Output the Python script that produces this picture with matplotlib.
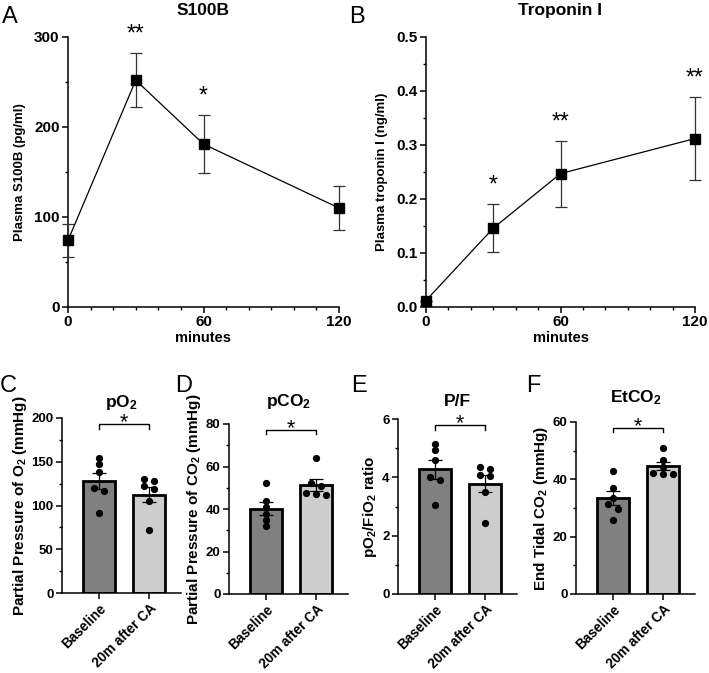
import numpy as np
import matplotlib
matplotlib.use("Agg")
import matplotlib.pyplot as plt
from matplotlib.ticker import MultipleLocator

# time course panels (mean +/- SEM)
minutes = [0, 30, 60, 120]
s100b_mean = [74, 252, 181, 110]
s100b_sem = [18, 30, 32, 24]
s100b_stars = ["", "**", "*", ""]
trop_mean = [0.012, 0.146, 0.247, 0.312]
trop_sem = [0.0, 0.045, 0.061, 0.077]
trop_stars = ["", "*", "**", "**"]

# blood gas panels: individual animals
groups = ["Baseline", "20m after CA"]
po2_base = [154, 148, 138, 120, 117, 92]
po2_ca = [130, 127.5, 122, 118.5, 104.8, 72.4]
pco2_base = [52.3, 43.8, 40.9, 37.8, 34.6, 32.0]
pco2_ca = [63.8, 52.3, 50.7, 47.6, 46.9, 46.5]
pf_base = [5.16, 4.93, 4.59, 4.01, 3.90, 3.06]
pf_ca = [4.35, 4.30, 4.07, 4.05, 3.50, 2.43]
etco2_base = [42.9, 37.1, 33.6, 31.3, 29.8, 25.9]
etco2_ca = [50.8, 46.9, 44.3, 42.2, 42.0, 41.8]

plt.rcParams['font.family'] = ['Liberation Sans', 'DejaVu Sans']
plt.rcParams['font.weight'] = 'bold'
plt.rcParams['axes.labelweight'] = 'bold'
plt.rcParams['axes.titleweight'] = 'bold'
plt.rcParams['mathtext.fontset'] = 'custom'
plt.rcParams['mathtext.rm'] = 'Liberation Sans:bold'
plt.rcParams['mathtext.it'] = 'Liberation Sans:bold'
plt.rcParams['mathtext.bf'] = 'Liberation Sans:bold'
plt.rcParams['axes.linewidth'] = 1.1
plt.rcParams['xtick.major.width'] = 1.1
plt.rcParams['ytick.major.width'] = 1.1
plt.rcParams['xtick.minor.width'] = 1.0
plt.rcParams['ytick.minor.width'] = 1.0
plt.rcParams['xtick.major.size'] = 4
plt.rcParams['ytick.major.size'] = 4
plt.rcParams['xtick.minor.size'] = 2.5
plt.rcParams['ytick.minor.size'] = 2.5

W, H = 709, 673
fig = plt.figure(figsize=(W / 100, H / 100), dpi=100)


def add_ax(l, t, r, b):
    return fig.add_axes([l / W, 1 - b / H, (r - l) / W, (b - t) / H])


def style(ax, size):
    ax.spines['top'].set_visible(False)
    ax.spines['right'].set_visible(False)
    ax.tick_params(labelsize=size, pad=2)
    for lab in ax.get_xticklabels() + ax.get_yticklabels():
        lab.set_fontweight('bold')


def letter(x, y, s):
    fig.text(x / W, 1 - y / H, s, fontsize=17, fontweight='normal', va='top', ha='left')


def time_panel(ax, mean, sem, stars, ymax, major, minor, title, ylabel):
    ax.errorbar(minutes, mean, yerr=sem, color='black', ecolor='#333333', elinewidth=0.9,
                capsize=4.5, capthick=0.9, lw=0.9, marker='s', ms=7.5, mec='black',
                mfc='black', clip_on=False, zorder=3)
    ax.set_xlim(0, 120)
    ax.set_ylim(0, ymax)
    ax.xaxis.set_major_locator(MultipleLocator(60))
    ax.xaxis.set_minor_locator(MultipleLocator(10))
    ax.yaxis.set_major_locator(MultipleLocator(major))
    ax.yaxis.set_minor_locator(MultipleLocator(minor))
    ax.set_title(title, fontsize=12.5, pad=16)
    ax.set_ylabel(ylabel, fontsize=9.5, labelpad=6)
    ax.set_xlabel("minutes", fontsize=10.5, labelpad=1)
    for x, m, e, s in zip(minutes, mean, sem, stars):
        if s:
            ax.annotate(s, (x, m + e), xytext=(0, 9), textcoords='offset points',
                        ha='center', va='baseline', fontsize=16.5, fontweight='normal',
                        annotation_clip=False)
    style(ax, 11)


def swarm(vals, ax_h, ymax, thresh=4.5, step=0.2):
    vals = np.asarray(vals, float)
    order = np.argsort(-vals)
    px = ax_h / ymax
    offs = np.zeros(len(vals))
    cluster = [order[0]]
    clusters = []
    for i in order[1:]:
        if (vals[cluster[-1]] - vals[i]) * px < thresh:
            cluster.append(i)
        else:
            clusters.append(cluster)
            cluster = [i]
    clusters.append(cluster)
    for c in clusters:
        n = len(c)
        for k, i in enumerate(c):
            offs[i] = (k - (n - 1) / 2) * step
    return offs


def bar_panel(ax, base, ca, ymax, major, minor, title, ylabel, ax_h, tpad):
    data = [base, ca]
    means = [np.mean(d) for d in data]
    sems = [np.std(d, ddof=1) / np.sqrt(len(d)) for d in data]
    ax.bar([0, 1], means, width=0.64, color=['#808080', '#cdcdcd'],
           edgecolor='black', linewidth=2.0, zorder=2)
    ax.errorbar([0, 1], means, yerr=sems, fmt='none', ecolor='black', elinewidth=0.9,
                capsize=5, capthick=0.9, zorder=3)
    for i, d in enumerate(data):
        offs = swarm(d, ax_h, ymax)
        ax.plot(i + offs, d, 'o', color='black', ms=4.2, zorder=4, clip_on=False)
    ax.set_xlim(-0.74, 1.64)
    ax.set_ylim(0, ymax)
    ax.yaxis.set_major_locator(MultipleLocator(major))
    ax.yaxis.set_minor_locator(MultipleLocator(minor))
    ax.set_xticks([0, 1])
    ax.set_xticklabels(groups, rotation=45, ha='right', rotation_mode='anchor')
    ax.set_title(title, fontsize=12.5, pad=tpad)
    ax.set_ylabel(ylabel, fontsize=11, labelpad=2)
    # significance bracket
    yb = 0.965 * ymax
    tick = 0.025 * ymax
    ax.plot([0, 0, 1, 1], [yb - tick, yb, yb, yb - tick], color='black', lw=1.0,
            clip_on=False)
    ax.annotate("*", (0.5, yb), xytext=(0, -3), textcoords='offset points',
                ha='center', va='baseline', fontsize=15.5, fontweight='normal')
    style(ax, 9.5)
    for lab in ax.get_xticklabels():
        lab.set_fontsize(9.8)


axA = add_ax(68, 37, 339, 307)
time_panel(axA, s100b_mean, s100b_sem, s100b_stars, 300, 100, 50, "S100B",
           "Plasma S100B (pg/ml)")
axB = add_ax(426, 37, 695, 307)
time_panel(axB, trop_mean, trop_sem, trop_stars, 0.5, 0.1, 0.05, "Troponin I",
           "Plasma troponin I (ng/ml)")

axC = add_ax(62, 418, 181, 593)
bar_panel(axC, po2_base, po2_ca, 200, 50, 25, "pO$_2$",
          "Partial Pressure of O$_2$ (mmHg)", 175, 8)
axD = add_ax(229, 424, 348, 594)
bar_panel(axD, pco2_base, pco2_ca, 80, 20, 10, "pCO$_2$",
          "Partial Pressure of CO$_2$ (mmHg)", 170, 13)
axE = add_ax(398, 419, 517, 594)
bar_panel(axE, pf_base, pf_ca, 6, 2, 1, "P/F", "pO$_2$/FiO$_2$ ratio", 175, 9)
axF = add_ax(576, 422, 695, 594)
bar_panel(axF, etco2_base, etco2_ca, 60, 20, 10, "EtCO$_2$",
          "End Tidal CO$_2$ (mmHg)", 172, 14)

letter(2, 6, "A")
letter(349, 6, "B")
letter(0, 375, "C")
letter(175, 375, "D")
letter(351, 375, "E")
letter(526, 375, "F")

fig.savefig("out.png", dpi=100)
